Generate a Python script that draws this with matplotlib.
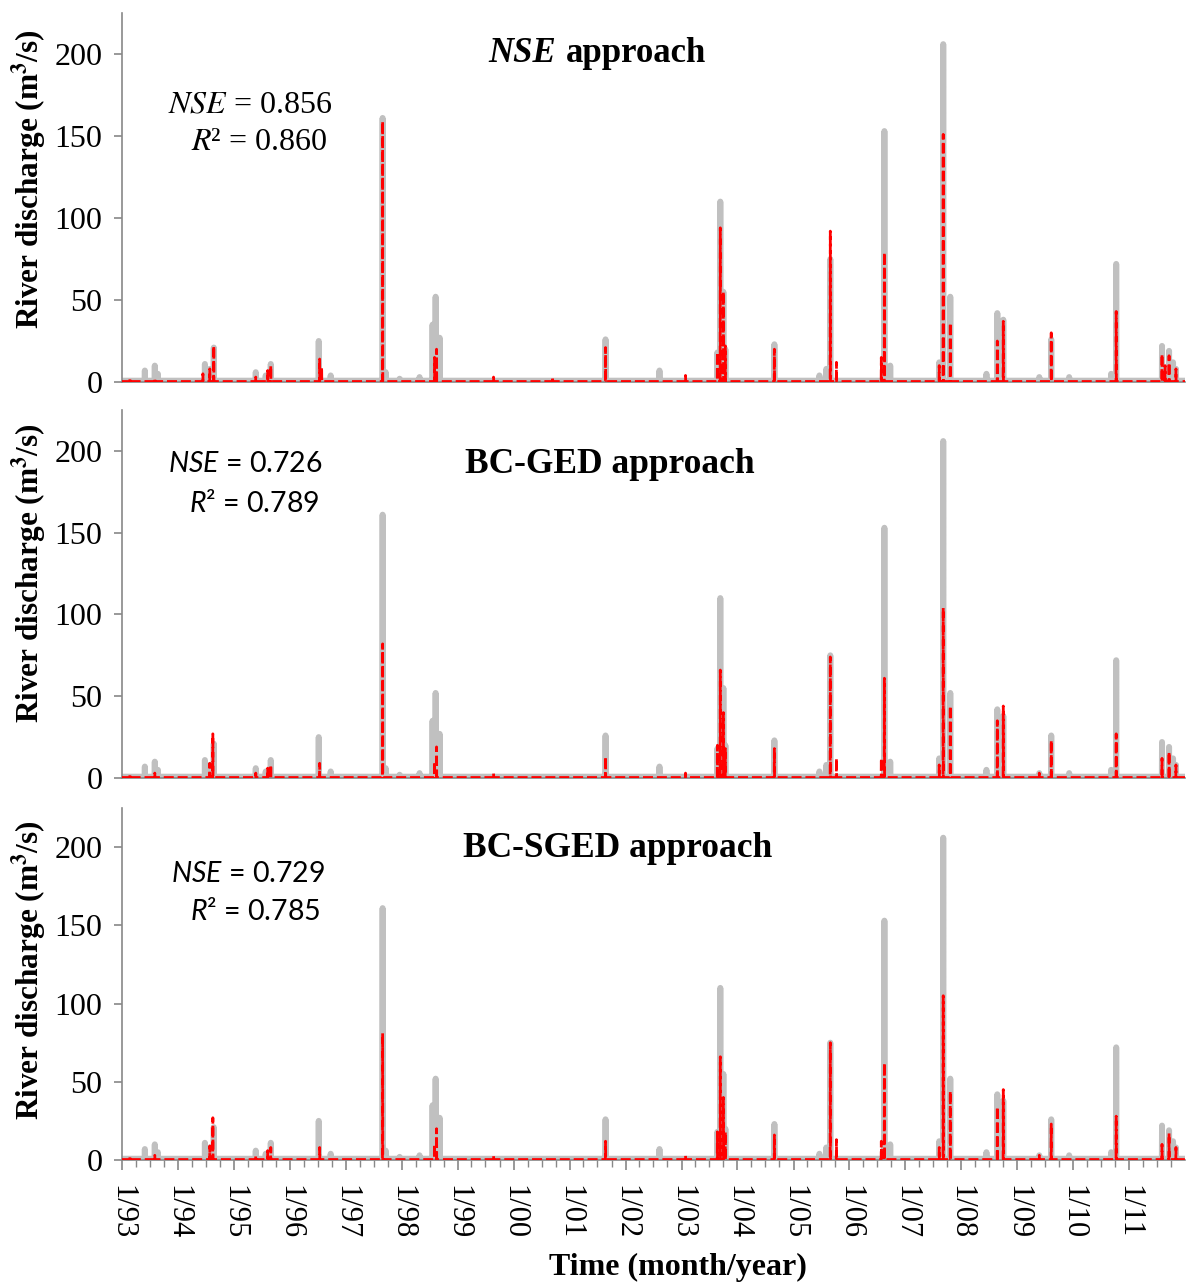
import numpy as np
import pandas as pd
import matplotlib
matplotlib.use("Agg")
import matplotlib.pyplot as plt
import matplotlib.dates as mdates
from matplotlib.ticker import FuncFormatter, MultipleLocator

plt.rcParams['font.family'] = ['Liberation Serif', 'DejaVu Serif']
plt.rcParams['mathtext.fontset'] = 'custom'
plt.rcParams['mathtext.rm'] = 'Lato'
plt.rcParams['mathtext.it'] = 'Lato:italic'
plt.rcParams['mathtext.bf'] = 'Lato:bold'

# daily record, Jan 1993 - Dec 2011
start, end = "1993-01-01", "2011-12-31"

# observed flood peaks (m3/s) and the days they occur
obs_dates = ["1993-05-30", "1993-08-03", "1993-08-23", "1994-06-26", "1994-07-28",
             "1994-08-23", "1995-05-24", "1995-07-28", "1995-08-30", "1996-07-08",
             "1996-09-24", "1997-08-29", "1997-09-18", "1997-12-18", "1998-04-27",
             "1998-07-21", "1998-08-10", "1998-09-05", "2001-08-23", "2002-08-10",
             "2003-08-23", "2003-09-11", "2003-10-01", "2003-10-14", "2004-08-29",
             "2005-06-19", "2005-08-03", "2005-08-29", "2006-08-17", "2006-09-24",
             "2007-08-10", "2007-09-05", "2007-10-21", "2008-06-13", "2008-08-23",
             "2008-10-01", "2009-05-24", "2009-08-10", "2009-12-05", "2010-09-05",
             "2010-10-08", "2011-08-03", "2011-09-18", "2011-10-14", "2011-11-02"]
obs_peaks = [7, 10, 5, 11, 8,
             21, 6, 4, 11, 25,
             4, 161, 6, 2, 3,
             35, 52, 27, 26, 7,
             18, 110, 55, 20, 23,
             4, 8, 75, 153, 10,
             12, 206, 52, 5, 42,
             38, 3, 26, 3, 5,
             72, 22, 19, 12, 8]
obs_base = 0.8

# simulated peaks, NSE approach
nse_dates = ["1993-02-22", "1993-08-03", "1994-06-13", "1994-07-28", "1994-08-23",
             "1995-05-24", "1995-08-10", "1995-08-30", "1996-07-14", "1996-07-27",
             "1997-08-29", "1998-08-03", "1998-08-16", "1999-08-23", "2000-09-11",
             "2001-08-23", "2003-01-27", "2003-08-23", "2003-09-11", "2003-10-01",
             "2003-10-14", "2004-08-29", "2005-08-29", "2005-10-08", "2006-07-28",
             "2006-08-17", "2007-08-10", "2007-09-05", "2007-10-21", "2008-08-23",
             "2008-10-01", "2009-08-10", "2010-10-08", "2011-08-03", "2011-08-23",
             "2011-09-18", "2011-11-02"]
nse_peaks = [2, 2, 5, 8, 22,
             3, 7, 10, 14, 9,
             159, 15, 20, 3, 3,
             21, 4, 18, 94, 55,
             22, 20, 92, 12, 15,
             79, 10, 151, 36, 25,
             37, 30, 43, 17, 10,
             16, 8]

# simulated peaks, BC-GED approach
ged_dates = ["1993-02-22", "1993-08-03", "1994-07-28", "1994-08-17", "1995-05-24",
             "1995-08-10", "1995-08-30", "1996-07-14", "1997-08-29", "1998-08-03",
             "1998-08-16", "1999-08-23", "2001-08-23", "2003-01-27", "2003-08-23",
             "2003-09-11", "2003-10-01", "2003-10-14", "2004-08-29", "2005-08-29",
             "2005-10-08", "2006-07-28", "2006-08-17", "2007-08-10", "2007-09-05",
             "2007-10-21", "2008-08-23", "2008-10-01", "2009-05-24", "2009-08-10",
             "2010-10-08", "2011-08-03", "2011-09-18", "2011-11-02"]
ged_peaks = [2, 3, 9, 27, 3,
             6, 8, 9, 82, 10,
             19, 3, 13, 3, 20,
             66, 40, 18, 18, 74,
             12, 12, 61, 8, 104,
             44, 35, 44, 3, 23,
             27, 12, 16, 8]

# simulated peaks, BC-SGED approach
sged_dates = ["1993-02-22", "1993-08-03", "1994-07-28", "1994-08-17", "1995-05-24",
              "1995-08-10", "1995-08-30", "1996-07-14", "1997-08-29", "1998-08-03",
              "1998-08-16", "1999-08-23", "2001-08-23", "2003-01-27", "2003-08-23",
              "2003-09-11", "2003-10-01", "2003-10-14", "2004-08-29", "2005-08-29",
              "2005-10-08", "2006-07-28", "2006-08-17", "2007-08-10", "2007-09-05",
              "2007-10-21", "2008-08-23", "2008-10-01", "2009-05-24", "2009-08-10",
              "2010-10-08", "2011-08-03", "2011-09-18", "2011-11-02"]
sged_peaks = [2, 3, 9, 27, 3,
              6, 8, 8, 81, 10,
              20, 3, 12, 3, 18,
              66, 40, 18, 16, 75,
              13, 12, 62, 8, 105,
              44, 34, 45, 3, 23,
              28, 10, 17, 8]
sim_base = 0.3

titles = ["approach", "BC-GED approach", "BC-SGED approach"]
nse_vals = ["0.856", "0.726", "0.729"]
r2_vals = ["0.860", "0.789", "0.785"]


def build_series(days, dates, peaks, base):
    s = pd.Series(base, index=days, dtype=float)
    for d, v in zip(dates, peaks):
        s[pd.Timestamp(d)] = max(s[pd.Timestamp(d)], v)
    return s


days = pd.date_range(start, end, freq="D")
obs = build_series(days, obs_dates, obs_peaks, obs_base)
sims = [build_series(days, nse_dates, nse_peaks, sim_base),
        build_series(days, ged_dates, ged_peaks, sim_base),
        build_series(days, sged_dates, sged_peaks, sim_base)]

fig = plt.figure(figsize=(11.92, 12.82), dpi=100)
W, H = 1192, 1282
left, right = 122, 1185
panels = [(13, 382), (410, 778), (808, 1160)]  # top / bottom in pixels

# text placement per panel (axes fraction)
title_pos = [(0.447, 0.889), (0.459, 0.851), (0.466, 0.886)]
stat_pos = [((0.1985, 0.751), (0.193, 0.650)),
            ((0.189, 0.853), (0.186, 0.747)),
            ((0.191, 0.8125), (0.187, 0.705))]
ylab_y = [0.55, 0.557, 0.54]

gray = "#888888"
for i, (top, bot) in enumerate(panels):
    ax = fig.add_axes([left / W, 1 - bot / H, (right - left) / W, (bot - top) / H])
    ax.plot(obs.index, obs.values, color="#c0c0c0", lw=4.3, solid_joinstyle="round",
            solid_capstyle="round", zorder=2)
    ax.plot(sims[i].index, sims[i].values, color="red", lw=2.0, dashes=(3.6, 1.4),
            zorder=3)
    ax.set_xlim(pd.Timestamp(start), pd.Timestamp(end))
    ax.set_ylim(0, 225)
    ax.yaxis.set_major_locator(MultipleLocator(50))
    for side in ("top", "right"):
        ax.spines[side].set_visible(False)
    for side in ("left", "bottom"):
        ax.spines[side].set_color(gray)
        ax.spines[side].set_linewidth(1.2)
    ax.tick_params(axis="y", colors=gray, length=6, width=1.2, labelsize=23,
                   labelcolor="black", pad=8)
    ax.xaxis.set_major_locator(mdates.YearLocator(1, month=1, day=1))
    ax.xaxis.set_minor_locator(mdates.MonthLocator(bymonth=[4, 7, 10]))
    if i < 2:
        ax.tick_params(axis="x", which="both", length=0, labelbottom=False)
    else:
        ax.xaxis.set_major_formatter(FuncFormatter(
            lambda v, p: "{}/{}".format(mdates.num2date(v).month,
                                        mdates.num2date(v).strftime("%y"))))
        ax.tick_params(axis="x", which="major", colors=gray, length=7, width=1.2,
                       labelsize=22, labelcolor="black", labelrotation=-90, pad=11)
        ax.tick_params(axis="x", which="minor", colors=gray, length=5, width=1.0)
        for lab in ax.get_xticklabels():
            lab.set_va("top")
            lab.set_ha("center")

    ax.set_ylabel(r"River discharge (m$^{\mathbf{3}}$/s)", fontsize=22.5,
                  fontweight="bold", math_fontfamily="stix")
    ax.yaxis.set_label_coords(-0.069, ylab_y[i])

    tx, ty = title_pos[i]
    if i == 0:
        ax.text(0.408, ty, "NSE", transform=ax.transAxes, ha="right", va="center",
                fontsize=25, fontweight="bold", fontstyle="italic")
        ax.text(0.418, ty, "approach", transform=ax.transAxes, ha="left",
                va="center", fontsize=25, fontweight="bold")
        fam, mfam, fs = ["Liberation Serif"], "stix", 23
    else:
        ax.text(tx, ty, titles[i], transform=ax.transAxes, ha="center", va="center",
                fontsize=25.5, fontweight="bold")
        fam, mfam, fs = ["Lato"], "custom", 20.5
    (x1, y1), (x2, y2) = stat_pos[i]
    ax.text(x1, y1, r"$\mathit{NSE}$ = " + nse_vals[i], transform=ax.transAxes,
            ha="right", va="center", fontsize=fs, family=fam, math_fontfamily=mfam)
    ax.text(x2, y2, r"$\mathit{R}$" + "\u00b2 = " + r2_vals[i], transform=ax.transAxes,
            ha="right", va="center", fontsize=fs, family=fam, math_fontfamily=mfam)

fig.text(678 / W, 1 - 1267 / H, "Time (month/year)", ha="center", va="center",
         fontsize=23, fontweight="bold")

fig.savefig("out.png", dpi=100)
